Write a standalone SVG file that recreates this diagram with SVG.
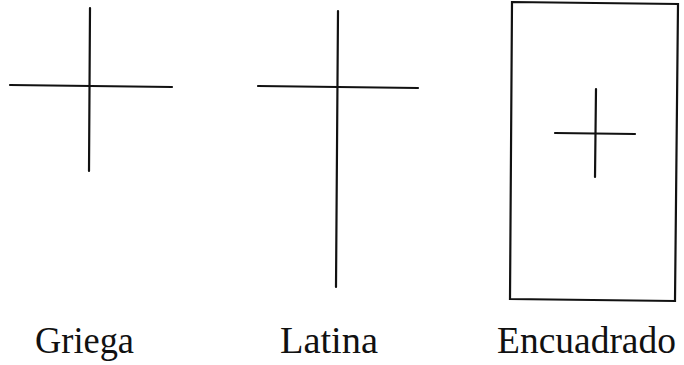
<svg xmlns="http://www.w3.org/2000/svg" width="684" height="365" viewBox="0 0 684 365">
<style>
.ln{stroke:#111;stroke-width:2.2;fill:none;stroke-linecap:round}
.lb{font-family:"Liberation Serif",serif;font-size:37px;fill:#111}
</style>
<rect width="684" height="365" fill="#fff"/>
<g id="griega">
<line class="ln" x1="90" y1="8" x2="89" y2="171"/>
<line class="ln" x1="10" y1="85" x2="172" y2="87"/>
<text class="lb" x="35" y="353" textLength="99" lengthAdjust="spacingAndGlyphs">Griega</text>
</g>
<g id="latina">
<line class="ln" x1="338" y1="11" x2="336" y2="287"/>
<line class="ln" x1="258" y1="86" x2="418" y2="88"/>
<text class="lb" x="280" y="353" textLength="98" lengthAdjust="spacingAndGlyphs">Latina</text>
</g>
<g id="encuadrado">
<polygon class="ln" points="512,2 678,4 675,301 510,299"/>
<line class="ln" x1="596" y1="89" x2="595" y2="177"/>
<line class="ln" x1="555" y1="133" x2="635" y2="134"/>
<text class="lb" x="497" y="353" textLength="179" lengthAdjust="spacingAndGlyphs">Encuadrado</text>
</g>
</svg>
